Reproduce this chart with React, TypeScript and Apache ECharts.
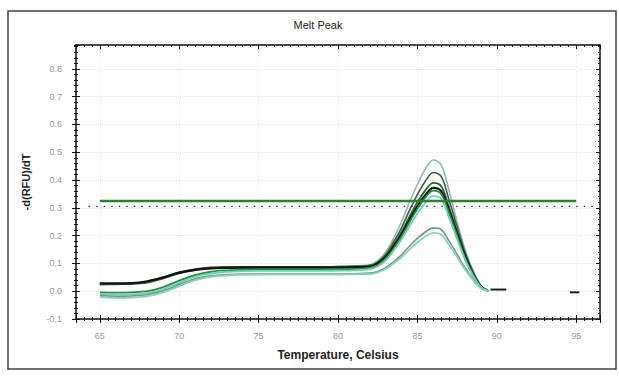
import React, { useEffect, useRef } from "react";
import * as echarts from "echarts";

// Temperatures (°C) shared by all melt curves
const temps = [
  65, 66, 67, 68, 69, 70, 71, 72, 73, 74, 75, 76, 77, 78, 79, 80, 81,
  82, 82.5, 83, 83.5, 84, 84.5, 85, 85.5, 86, 86.5, 87, 87.5, 88, 88.5, 89, 89.5,
];

// -d(RFU)/dT values for each well
const wellA = [0.025, 0.026, 0.027, 0.033, 0.048, 0.066, 0.078, 0.084, 0.086, 0.087, 0.088, 0.088, 0.088, 0.088, 0.088, 0.089, 0.091,
  0.095, 0.11, 0.14, 0.19, 0.25, 0.32, 0.385, 0.44, 0.472, 0.455, 0.36, 0.25, 0.15, 0.075, 0.02, 0.0];
const wellB = [0.027, 0.027, 0.028, 0.035, 0.05, 0.068, 0.08, 0.086, 0.088, 0.088, 0.088, 0.088, 0.088, 0.088, 0.088, 0.088, 0.089,
  0.092, 0.105, 0.132, 0.177, 0.228, 0.29, 0.348, 0.396, 0.427, 0.413, 0.327, 0.232, 0.14, 0.07, 0.02, 0.0];
const wellC = [0.024, 0.025, 0.026, 0.031, 0.046, 0.064, 0.076, 0.083, 0.086, 0.087, 0.087, 0.087, 0.087, 0.087, 0.087, 0.088, 0.089,
  0.092, 0.103, 0.128, 0.167, 0.213, 0.268, 0.32, 0.363, 0.39, 0.378, 0.3, 0.215, 0.13, 0.065, 0.018, 0.0];
const wellD = [0.028, 0.028, 0.029, 0.036, 0.05, 0.067, 0.077, 0.082, 0.084, 0.085, 0.085, 0.085, 0.085, 0.085, 0.085, 0.085, 0.086,
  0.089, 0.1, 0.123, 0.16, 0.204, 0.256, 0.305, 0.346, 0.372, 0.36, 0.288, 0.207, 0.125, 0.062, 0.017, 0.0];
const wellE = [-0.004, -0.005, -0.004, 0.0, 0.015, 0.038, 0.058, 0.07, 0.075, 0.077, 0.078, 0.078, 0.078, 0.078, 0.078, 0.079, 0.08,
  0.084, 0.094, 0.117, 0.154, 0.197, 0.248, 0.297, 0.337, 0.362, 0.35, 0.28, 0.2, 0.12, 0.06, 0.016, 0.0];
const wellH = [-0.01, -0.012, -0.011, -0.007, 0.008, 0.03, 0.052, 0.064, 0.07, 0.072, 0.073, 0.073, 0.073, 0.073, 0.073, 0.074, 0.075,
  0.079, 0.089, 0.11, 0.145, 0.186, 0.234, 0.28, 0.318, 0.342, 0.332, 0.264, 0.188, 0.113, 0.056, 0.015, 0.0];
const wellF = [-0.016, -0.018, -0.017, -0.012, 0.002, 0.024, 0.045, 0.056, 0.06, 0.062, 0.062, 0.062, 0.062, 0.062, 0.062, 0.062, 0.063,
  0.065, 0.071, 0.085, 0.106, 0.131, 0.162, 0.19, 0.213, 0.228, 0.222, 0.18, 0.133, 0.085, 0.045, 0.012, 0.0];
const wellG = [-0.02, -0.024, -0.023, -0.018, -0.004, 0.018, 0.04, 0.052, 0.057, 0.059, 0.06, 0.06, 0.06, 0.06, 0.06, 0.06, 0.061,
  0.062, 0.068, 0.08, 0.1, 0.122, 0.15, 0.176, 0.197, 0.21, 0.204, 0.166, 0.123, 0.078, 0.04, 0.01, 0.0];

// Threshold lines and short flat tail segments
const thresholdLine = [[65, 0.325], [95, 0.325]];
const dottedLine = [[64.3, 0.305], [96.2, 0.305]];
const tailSeg1 = [[89.6, 0.006], [90.6, 0.006]];
const tailSeg2 = [[94.6, -0.004], [95.2, -0.004]];

const X_MIN = 63.5;
const X_MAX = 96.5;
const Y_MIN = -0.1;
const Y_MAX = 0.886;

const wells = [
  { name: "A", data: wellA, color: "#8fb9b1", width: 1.6 },
  { name: "B", data: wellB, color: "#4a5550", width: 1.6 },
  { name: "C", data: wellC, color: "#1f6b2e", width: 1.8 },
  { name: "D", data: wellD, color: "#111111", width: 2.2 },
  { name: "E", data: wellE, color: "#2e8b3e", width: 1.8 },
  { name: "H", data: wellH, color: "#6fcfb5", width: 1.8 },
  { name: "F", data: wellF, color: "#7f918a", width: 1.6 },
  { name: "G", data: wellG, color: "#7fd3c0", width: 1.8 },
];

const FONT = "Liberation Sans";

export default function App() {
  const ref = useRef<HTMLDivElement>(null);
  useEffect(() => {
    if (!ref.current) return;
    const chart = echarts.init(ref.current, null, { renderer: "svg" });

    const hidden = { show: false };
    const noLine = { show: false, onZero: false };
    const baseX = { type: "value", min: X_MIN, max: X_MAX, gridIndex: 0, splitLine: hidden, axisLabel: hidden };
    const baseY = { type: "value", min: Y_MIN, max: Y_MAX, gridIndex: 0, splitLine: hidden, axisLabel: hidden };
    const tick = (inside: boolean, len: number) => ({ show: true, inside, length: len, lineStyle: { color: "#111", width: 1 } });
    const line = { show: true, onZero: false, lineStyle: { color: "#111", width: 1.5 } };

    const xAxis: any[] = [
      {
        ...baseX,
        position: "bottom",
        splitNumber: 7,
        axisLine: line,
        axisTick: tick(false, 4),
        axisLabel: {
          show: true,
          color: "#9a9a9a",
          fontSize: 9,
          fontFamily: FONT,
          margin: 12,
          formatter: (v: number) => (Math.abs(v % 5) < 1e-6 ? String(v) : ""),
        },
        splitLine: { show: true, lineStyle: { color: "#ececec", type: "dotted" } },
        name: "Temperature, Celsius",
        nameLocation: "middle",
        nameGap: 30,
        nameTextStyle: { fontSize: 12, fontWeight: "bold", color: "#222", fontFamily: FONT },
      },
      { ...baseX, position: "bottom", splitNumber: 7, axisLine: noLine, axisTick: tick(true, 4) },
      { ...baseX, position: "bottom", interval: 0.5, axisLine: noLine, axisTick: tick(true, 2) },
      { ...baseX, position: "bottom", interval: 0.5, axisLine: noLine, axisTick: tick(false, 2) },
      { ...baseX, position: "top", splitNumber: 7, axisLine: line, axisTick: tick(true, 4) },
      { ...baseX, position: "top", interval: 0.5, axisLine: noLine, axisTick: tick(true, 2) },
    ];

    const yAxis: any[] = [
      {
        ...baseY,
        position: "left",
        interval: 0.1,
        axisLine: line,
        axisTick: tick(false, 4),
        axisLabel: {
          show: true,
          showMaxLabel: false,
          color: "#9a9a9a",
          fontSize: 9,
          fontFamily: FONT,
          margin: 14,
          formatter: (v: number) => v.toFixed(1),
        },
        splitLine: { show: true, lineStyle: { color: "#e6e6e6", type: "dotted" } },
        name: "-d(RFU)/dT",
        nameLocation: "middle",
        nameGap: 45,
        nameTextStyle: { fontSize: 11, fontWeight: "bold", color: "#222", fontFamily: FONT },
      },
      { ...baseY, position: "left", interval: 0.1, axisLine: noLine, axisTick: tick(true, 4) },
      { ...baseY, position: "left", interval: 0.02, axisLine: noLine, axisTick: tick(true, 2) },
      { ...baseY, position: "left", interval: 0.02, axisLine: noLine, axisTick: tick(false, 2) },
      { ...baseY, position: "right", interval: 0.1, axisLine: line, axisTick: tick(true, 4) },
      { ...baseY, position: "right", interval: 0.02, axisLine: noLine, axisTick: tick(true, 2) },
    ];

    const curveSeries = wells.map((w) => ({
      type: "line",
      name: w.name,
      xAxisIndex: 0,
      yAxisIndex: 0,
      data: temps.map((t, i) => [t, w.data[i]]),
      smooth: 0.35,
      showSymbol: false,
      lineStyle: { color: w.color, width: w.width },
      z: 3,
    }));

    chart.setOption({
      animation: false,
      backgroundColor: "#ffffff",
      grid: { left: 76, right: 19, top: 45, bottom: 57, containLabel: false },
      xAxis,
      yAxis,
      series: [
        ...curveSeries,
        {
          type: "line",
          name: "dotted",
          data: dottedLine,
          showSymbol: false,
          lineStyle: { color: "#333", width: 1.2, type: [1.5, 6] },
          z: 2,
        },
        {
          type: "line",
          name: "threshold",
          data: thresholdLine,
          showSymbol: false,
          lineStyle: { color: "#2f7d32", width: 2.5 },
          z: 5,
        },
        {
          type: "line",
          name: "tail1",
          data: tailSeg1,
          showSymbol: false,
          lineStyle: { color: "#222", width: 2 },
          z: 4,
        },
        {
          type: "line",
          name: "tail2",
          data: tailSeg2,
          showSymbol: false,
          lineStyle: { color: "#222", width: 2 },
          z: 4,
        },
      ],
      graphic: [
        {
          type: "rect",
          shape: { x: 8, y: 11, width: 608, height: 358 },
          style: { fill: "none", stroke: "#444", lineWidth: 1.5 },
          silent: true,
        },
        {
          type: "text",
          x: 318,
          y: 25,
          style: {
            text: "Melt Peak",
            fontSize: 11,
            fontFamily: FONT,
            fill: "#222",
            textAlign: "center",
            textVerticalAlign: "middle",
          },
        },
      ],
    });
    return () => chart.dispose();
  }, []);

  return (
    <div
      ref={ref}
      style={{ position: "fixed", left: 0, top: 0, width: 619, height: 376, background: "#fff" }}
    />
  );
}
